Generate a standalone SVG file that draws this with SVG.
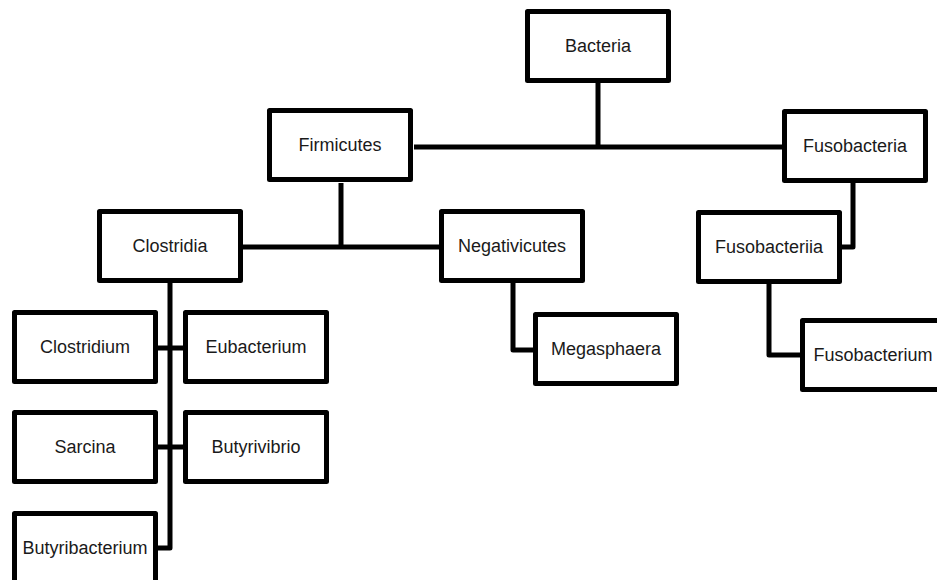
<svg xmlns="http://www.w3.org/2000/svg" width="937" height="580" viewBox="0 0 937 580">
<style>
.box rect{fill:#fff;stroke:#000;stroke-width:5;stroke-linejoin:round}
.box text{font-family:"Liberation Sans",Arial,sans-serif;font-size:18px;fill:#1a1a1a;text-anchor:middle}
#connectors path{fill:none;stroke:#000;stroke-width:5;stroke-linejoin:round}
</style>
<rect width="937" height="580" fill="#fff"/>
<g id="connectors">
<path d="M598 82V147"/>
<path d="M414 147H782"/>
<path d="M341 183V247"/>
<path d="M243 247H439"/>
<path d="M513 283V350H533"/>
<path d="M853 183V247H842"/>
<path d="M769 284V355H800"/>
<path d="M170 283V548H157"/>
<path d="M157 348H183"/>
<path d="M157 447H183"/>
</g>
<g id="bacteria" class="box"><rect x="527.5" y="11.5" width="141" height="69"/><text x="598" y="52">Bacteria</text></g>
<g id="firmicutes" class="box"><rect x="269.5" y="110.5" width="141" height="69"/><text x="340" y="151">Firmicutes</text></g>
<g id="fusobacteria" class="box"><rect x="784.5" y="111.5" width="141" height="69"/><text x="855" y="152">Fusobacteria</text></g>
<g id="clostridia" class="box"><rect x="99.5" y="211.5" width="141" height="69"/><text x="170" y="252">Clostridia</text></g>
<g id="negativicutes" class="box"><rect x="441.5" y="211.5" width="141" height="69"/><text x="512" y="252">Negativicutes</text></g>
<g id="fusobacteriia" class="box"><rect x="698.5" y="212.5" width="141" height="69"/><text x="769" y="253">Fusobacteriia</text></g>
<g id="megasphaera" class="box"><rect x="535.5" y="314.5" width="141" height="69"/><text x="606" y="355">Megasphaera</text></g>
<g id="fusobacterium" class="box"><rect x="802.5" y="320.5" width="141" height="69"/><text x="873" y="361">Fusobacterium</text></g>
<g id="clostridium" class="box"><rect x="14.5" y="312.5" width="141" height="69"/><text x="85" y="353">Clostridium</text></g>
<g id="eubacterium" class="box"><rect x="185.5" y="312.5" width="141" height="69"/><text x="256" y="353">Eubacterium</text></g>
<g id="sarcina" class="box"><rect x="14.5" y="412.5" width="141" height="69"/><text x="85" y="453">Sarcina</text></g>
<g id="butyrivibrio" class="box"><rect x="185.5" y="412.5" width="141" height="69"/><text x="256" y="453">Butyrivibrio</text></g>
<g id="butyribacterium" class="box"><rect x="14.5" y="513.5" width="141" height="69"/><text x="85" y="554">Butyribacterium</text></g>
</svg>
